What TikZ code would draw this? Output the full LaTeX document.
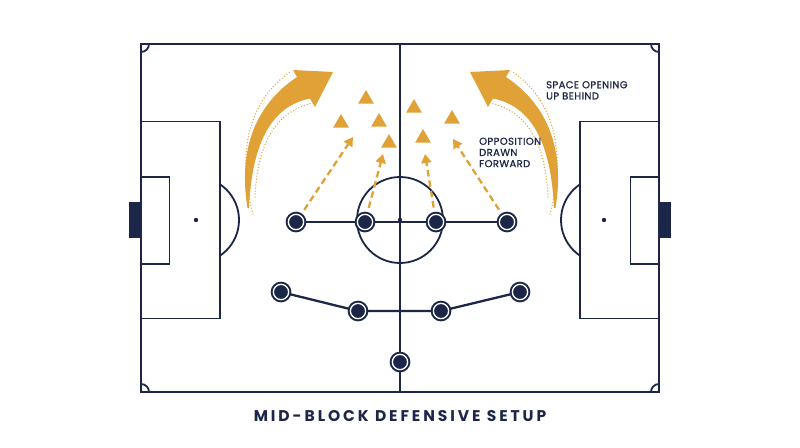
\documentclass[tikz,border=0pt]{standalone}
\usepackage{fontspec}
\setmainfont{Poppins}
\newfontfamily\titlefont{Poppins}[LetterSpace=19]
\newfontfamily\notefont{Poppins}[LetterSpace=4, FakeBold=0.8]
\usepackage{tikz}
\usetikzlibrary{arrows.meta, shapes.geometric}
\definecolor{pitchnavy}{RGB}{28,38,72}
\definecolor{oppgold}{RGB}{224,162,54}
\tikzset{
  pitchline/.style={draw=pitchnavy, line width=1.8pt},
  player/.style={circle, fill=pitchnavy, draw=pitchnavy, double=white,
    double distance=1.3pt, line width=2pt, minimum size=15.3pt, inner sep=0pt},
  opp/.style={regular polygon, regular polygon sides=3, fill=oppgold,
    minimum size=18pt, inner sep=0pt},
  link/.style={pitchnavy, line width=2.3pt},
  runarrow/.style={oppgold, line width=2.3pt, dash pattern=on 6.5pt off 4pt,
    -{Triangle[length=9pt, width=10pt]}, shorten <=6pt},
  dotline/.style={oppgold, line width=1.4pt, line cap=round, dash pattern=on 0pt off 3pt},
  note/.style={font=\notefont\fontsize{10}{11.2}\selectfont, text=pitchnavy, align=left,
    inner sep=0pt, anchor=north west}
}
\begin{document}
\begin{tikzpicture}[x=1pt, y=-1pt]
  \useasboundingbox (0,0) rectangle (800,447);
  \fill[white] (0,0) rectangle (800,447);

  % pitch
  \draw[pitchline] (141,44) rectangle (659,392);
  \draw[pitchline] (400,44) -- (400,392);
  \draw[pitchline] (400,220) circle[radius=43pt];
  \fill[pitchnavy] (400,220) circle[radius=2.2pt];
  \draw[pitchline] (141,121.5) rectangle (220,318.5);
  \draw[pitchline] (141,177) rectangle (169.5,264);
  \draw[pitchline] (580,121.5) rectangle (659,318.5);
  \draw[pitchline] (630.5,177) rectangle (659,264);
  \fill[pitchnavy] (196,220) circle[radius=2.2pt];
  \fill[pitchnavy] (604,220) circle[radius=2.2pt];
  \begin{scope}
    \clip (220,100) rectangle (260,340);
    \draw[pitchline] (196,220) circle[radius=43pt];
  \end{scope}
  \begin{scope}
    \clip (540,100) rectangle (580,340);
    \draw[pitchline] (604,220) circle[radius=43pt];
  \end{scope}
  \begin{scope}
    \clip (141,44) rectangle (659,392);
    \foreach \c in {(141,44),(659,44),(141,392),(659,392)}
      \draw[pitchline] \c circle[radius=8pt];
  \end{scope}
  \fill[pitchnavy] (129,202) rectangle (141,238);
  \fill[pitchnavy] (659,202) rectangle (671,238);

  % space in behind
  \foreach \mx/\sx in {0/1, 803/-1} {
    \begin{scope}[xshift=\mx pt, xscale=\sx]
      \fill[oppgold] (247.5,208) .. controls (238,150) and (255,105) .. (297,77)
        -- (293,70) -- (333,72) -- (315,107) -- (310,98.5)
        .. controls (272,106) and (252,142) .. (249,208) -- cycle;
      \draw[dotline] (253,214) .. controls (236,150) and (250,100) .. (290,72);
      \draw[dotline] (313,103) .. controls (276,111) and (257,143) .. (255,198);
    \end{scope}
  }

  % opposition
  \node[opp] (o1) at (366,99) {};
  \node[opp] (o2) at (341,123) {};
  \node[opp] (o3) at (379,122) {};
  \node[opp] (o4) at (389,143) {};
  \node[opp] (o5) at (414,108) {};
  \node[opp] (o6) at (452,119) {};
  \node[opp] (o7) at (423,138) {};

  % back line and midfield line
  \node[player] (d1) at (296,222) {};
  \node[player] (d2) at (365,222) {};
  \node[player] (d3) at (436,222) {};
  \node[player] (d4) at (507,222) {};
  \node[player] (m1) at (281,292) {};
  \node[player] (m2) at (358,311) {};
  \node[player] (m3) at (441,311) {};
  \node[player] (m4) at (520,292) {};
  \node[player] (gk) at (400,362) {};

  \draw[link] (d1) -- (d2) -- (d3) -- (d4);
  \draw[link] (m1) -- (m2) -- (m3) -- (m4);

  % runs drawing them forward
  \coordinate (t1) at (353,137);
  \coordinate (t2) at (383,154);
  \coordinate (t3) at (425,154);
  \coordinate (t4) at (453,139);
  \draw[runarrow] (d1) -- (t1);
  \draw[runarrow] (d2) -- (t2);
  \draw[runarrow] (d3) -- (t3);
  \draw[runarrow] (d4) -- (t4);

  \node[note] (space) at (546,81) {SPACE OPENING\\UP BEHIND};
  \node[note] (drawn) at (479,137.5) {OPPOSITION\\DRAWN\\FORWARD};

  \node[font=\titlefont\bfseries\fontsize{15.5}{18}\selectfont, text=pitchnavy]
    (title) at (400,416) {MID-BLOCK DEFENSIVE SETUP};
\end{tikzpicture}
\end{document}
